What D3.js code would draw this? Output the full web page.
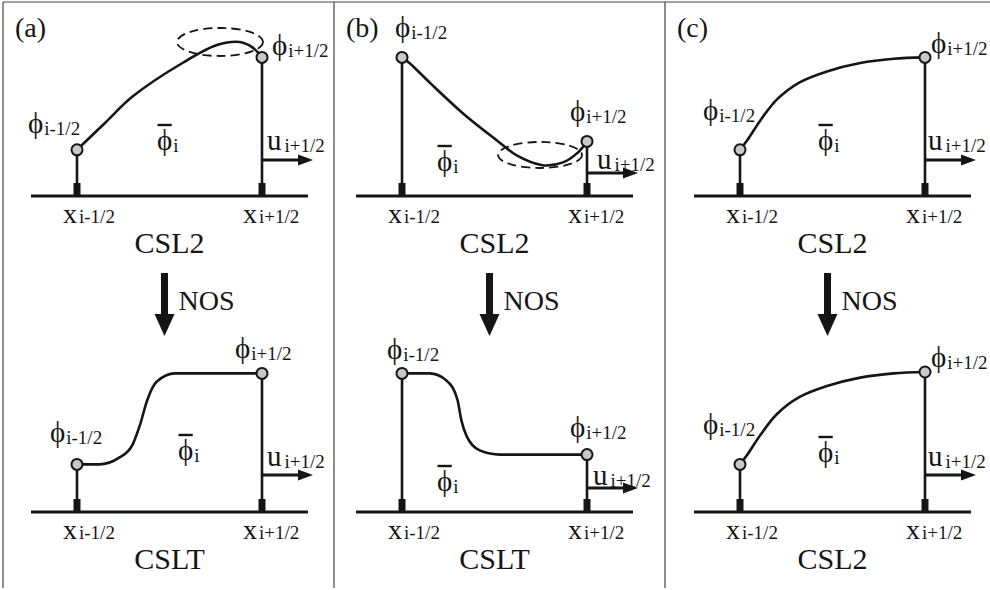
<!DOCTYPE html>
<html>
<head>
<meta charset="utf-8">
<script src="https://cdn.jsdelivr.net/npm/d3@7"></script>
<style>
  body { margin: 0; background: #fff; }
</style>
</head>
<body>
<div id="chart"></div>
<script>
// ---- data: face values and reconstructed profiles, x in [0,1] across the cell ----
const panelNames = ["(a)", "(b)", "(c)"];
const schemeBefore = ["CSL2", "CSL2", "CSL2"];
const schemeAfter = ["CSLT", "CSLT", "CSL2"];
const stepLabel = "NOS";

// CSL2 profiles (top row)
const profileA1 = [[0, 0.33], [0.15, 0.52], [0.30, 0.71], [0.57, 0.95], [0.76, 1.08], [0.88, 1.10], [0.95, 1.06], [1, 0.99]];
const profileB1 = [[0, 0.99], [0.04, 0.95], [0.15, 0.81], [0.33, 0.59], [0.51, 0.40], [0.62, 0.29], [0.76, 0.22], [0.87, 0.24], [0.95, 0.31], [1, 0.39]];
const profileC1 = [[0, 0.33], [0.04, 0.40], [0.11, 0.54], [0.20, 0.69], [0.32, 0.81], [0.47, 0.89], [0.65, 0.95], [0.83, 0.98], [1, 0.99]];
// after NOS (bottom row)
const profileA2 = [[0, 0.34], [0.12, 0.34], [0.23, 0.39], [0.30, 0.48], [0.34, 0.62], [0.38, 0.80], [0.43, 0.93], [0.53, 0.99], [0.61, 0.99], [1, 0.99]];
const profileB2 = [[0, 0.99], [0.15, 0.99], [0.24, 0.94], [0.30, 0.80], [0.32, 0.66], [0.35, 0.54], [0.42, 0.44], [0.53, 0.41], [1, 0.41]];
const profileC2 = [[0, 0.34], [0.04, 0.41], [0.11, 0.55], [0.20, 0.70], [0.32, 0.82], [0.47, 0.90], [0.65, 0.96], [0.83, 0.99], [1, 1.0]];

// overshoot regions marked with dashed ellipses: [cx, cy, rx, ry] in cell units
const overshootA = [0.773, 1.10, 0.232, 0.10];
const overshootB = [0.746, 0.293, 0.227, 0.093];

// ---- layout ----
const W = 990, H = 590;
const faceLeft = [77, 402, 740];
const cellW = 185;
const rowAxis = [196, 512];
const unitH = 140;
const serif = "'Liberation Serif', 'Times New Roman', serif";

const svg = d3.select("#chart").append("svg")
  .attr("width", W).attr("height", H)
  .attr("font-family", serif);
svg.append("rect").attr("width", W).attr("height", H).attr("fill", "#fff");

// frame
const frame = svg.append("g").attr("stroke", "#444").attr("stroke-width", 1.2);
frame.append("line").attr("x1", 3).attr("x2", W).attr("y1", 2).attr("y2", 2);
[3, 334, 665].forEach(x =>
  frame.append("line").attr("x1", x).attr("x2", x).attr("y1", 2).attr("y2", 588));

const ink = "#151515";

function subLabel(g, x, y, main, sub, o = {}) {
  const size = o.size || 29, subSize = o.subSize || 19, dy = o.dy == null ? 2 : o.dy;
  const t = g.append("text").attr("x", x).attr("y", y).attr("font-size", size)
    .attr("font-family", serif).attr("fill", ink);
  t.append("tspan").text(main);
  t.append("tspan").attr("dx", o.gap || 1).attr("dy", dy).attr("font-size", subSize).text(sub);
  return t;
}

function phiBar(g, x, y) {
  const t = g.append("text").attr("x", x).attr("y", y).attr("font-size", 29)
    .attr("font-family", serif).attr("fill", ink);
  const p = t.append("tspan").text("ϕ");
  t.append("tspan").attr("dx", 1).attr("dy", 2).attr("font-size", 19).text("i");
  const w = p.node().getComputedTextLength();
  g.append("line").attr("x1", x + 0.5).attr("x2", x + w - 0.5)
    .attr("y1", y - 25).attr("y2", y - 25)
    .attr("stroke", ink).attr("stroke-width", 2.4);
}

function uArrow(g, x, y) {
  g.append("line").attr("x1", x).attr("x2", x + 38).attr("y1", y).attr("y2", y)
    .attr("stroke", ink).attr("stroke-width", 3);
  g.append("path").attr("d", `M${x + 36},${y - 5.5}L${x + 51},${y}L${x + 36},${y + 5.5}Z`).attr("fill", ink);
}

// one schematic cell
function drawCell(p, row, profile, ellipse, L) {
  const g = svg.append("g");
  const x = d3.scaleLinear().domain([0, 1]).range([faceLeft[p], faceLeft[p] + cellW]);
  const y = d3.scaleLinear().domain([0, 1]).range([rowAxis[row], rowAxis[row] - unitH]);
  const y0 = rowAxis[row];

  // axis line
  g.append("line").attr("x1", x(0) - 46).attr("x2", x(1) + 46).attr("y1", y0).attr("y2", y0)
    .attr("stroke", ink).attr("stroke-width", 3);
  const left = profile[0], right = profile[profile.length - 1];
  // face stems and ticks
  [left, right].forEach(d => {
    g.append("line").attr("x1", x(d[0])).attr("x2", x(d[0])).attr("y1", y(d[1])).attr("y2", y0)
      .attr("stroke", ink).attr("stroke-width", 2.6);
    g.append("rect").attr("x", x(d[0]) - 3.5).attr("y", y0 - 13).attr("width", 7).attr("height", 13)
      .attr("fill", ink);
  });
  // velocity arrow at right face
  uArrow(g, x(1), L.uArrow);

  // dashed ellipse
  if (ellipse) {
    g.append("ellipse").attr("cx", x(ellipse[0])).attr("cy", y(ellipse[1]))
      .attr("rx", x(ellipse[2]) - x(0)).attr("ry", y(0) - y(ellipse[3]))
      .attr("fill", "none").attr("stroke", ink).attr("stroke-width", 1.8)
      .attr("stroke-dasharray", "9,5");
  }

  // profile curve
  const line = d3.line().x(d => x(d[0])).y(d => y(d[1]))
    .curve(row === 1 && p < 2 ? d3.curveMonotoneX : d3.curveCatmullRom.alpha(0.5));
  g.append("path").datum(profile).attr("d", line)
    .attr("fill", "none").attr("stroke", ink).attr("stroke-width", 2.6);

  // face values
  g.selectAll("circle.face").data([left, right]).join("circle")
    .attr("cx", d => x(d[0])).attr("cy", d => y(d[1])).attr("r", 5.5)
    .attr("fill", "#c8c8c8").attr("stroke", ink).attr("stroke-width", 2);

  // labels
  subLabel(g, L.phiL[0], L.phiL[1], "ϕ", "i-1/2");
  subLabel(g, L.phiR[0], L.phiR[1], "ϕ", "i+1/2");
  phiBar(g, L.bar[0], L.bar[1]);
  subLabel(g, L.u[0], L.u[1], "u", "i+1/2", { gap: 3 });
  subLabel(g, x(0) - 14, y0 + 27, "x", "i-1/2", { size: 28, dy: 0, gap: 2 });
  subLabel(g, x(1) - 19, y0 + 27, "x", "i+1/2", { size: 28, dy: 0, gap: 2 });
  g.append("text").attr("x", (x(0) + x(1)) / 2).attr("y", y0 + 57)
    .attr("text-anchor", "middle").attr("font-size", 30)
    .attr("font-family", serif).attr("fill", ink)
    .text(row === 0 ? schemeBefore[p] : schemeAfter[p]);
}

const labelsTop = [
  { phiL: [28, 133], phiR: [272, 55], bar: [157, 150], u: [267, 150], uArrow: 160 },
  { phiL: [395, 37], phiR: [570, 121], bar: [437, 171], u: [597, 169], uArrow: 173 },
  { phiL: [703, 120], phiR: [931, 53], bar: [818, 150], u: [928, 150], uArrow: 160 }
];
const labelsBottom = [
  { phiL: [50, 442], phiR: [235, 358], bar: [178, 460], u: [267, 466], uArrow: 475 },
  { phiL: [387, 359], phiR: [570, 437], bar: [437, 491], u: [593, 485], uArrow: 488 },
  { phiL: [703, 434], phiR: [931, 367], bar: [818, 462], u: [928, 466], uArrow: 475 }
];

const profilesTop = [profileA1, profileB1, profileC1];
const profilesBottom = [profileA2, profileB2, profileC2];
const ellipses = [overshootA, overshootB, null];

panelNames.forEach((name, p) => {
  drawCell(p, 0, profilesTop[p], ellipses[p], labelsTop[p]);
  drawCell(p, 1, profilesBottom[p], null, labelsBottom[p]);

  // panel tag
  svg.append("text").attr("x", 15 + [0, 331, 662][p]).attr("y", 37)
    .attr("font-size", 28).attr("font-family", serif).attr("fill", ink).text(name);

  // NOS arrow between rows
  const cx = faceLeft[p] + cellW / 2 - 5;
  const a = svg.append("g");
  a.append("rect").attr("x", cx - 3.5).attr("y", 273).attr("width", 7).attr("height", 44).attr("fill", ink);
  a.append("path").attr("d", `M${cx - 10},${314}L${cx + 10},${314}L${cx},${336}Z`).attr("fill", ink);
  a.append("text").attr("x", cx + 14).attr("y", 310).attr("font-size", 28)
    .attr("font-family", serif).attr("fill", ink).text(stepLabel);
});
</script>
</body>
</html>
